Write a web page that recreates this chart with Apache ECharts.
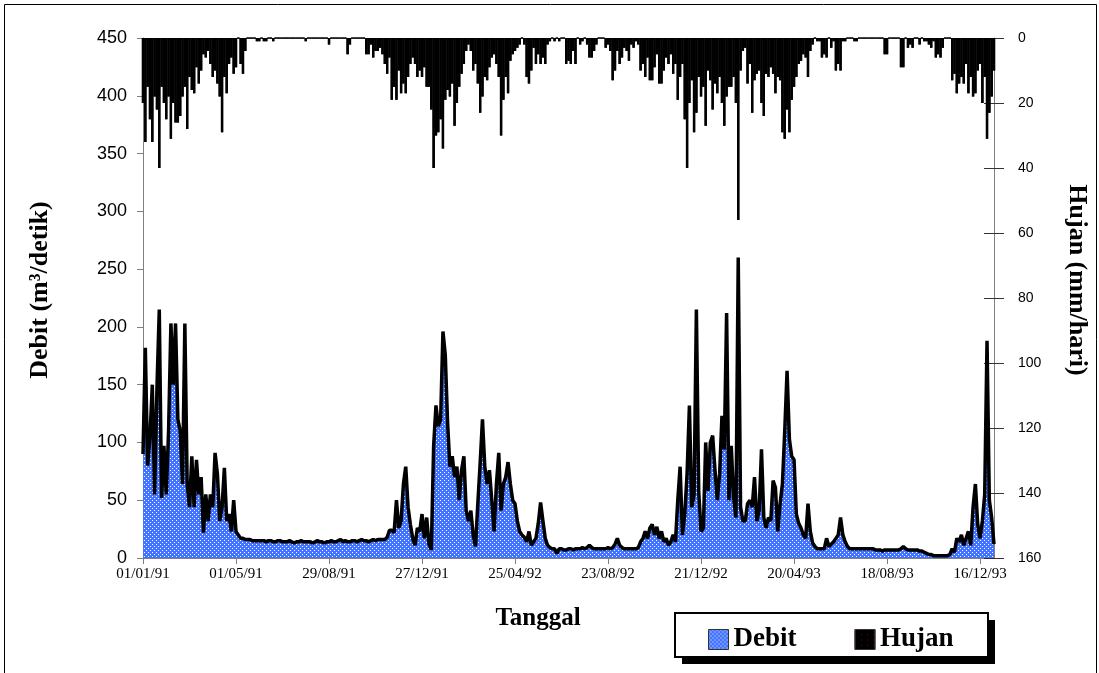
<!DOCTYPE html>
<html>
<head>
<meta charset="utf-8">
<title>Debit dan Hujan</title>
<script src="https://cdn.jsdelivr.net/npm/echarts@6/dist/echarts.min.js"></script>
<style>
    html, body { margin: 0; padding: 0; background: #fff; }
    #chart { width: 1099px; height: 673px; }
</style>
</head>
<body>
<div id="chart"></div>
<script>
// data harian dibaca per 3 hari, mulai 01/01/91
var startDate = Date.UTC(1991, 0, 1);
var stepDays = 3;

// label tanggal pada sumbu x
var tickLabels = ['01/01/91', '01/05/91', '29/08/91', '27/12/91', '25/04/92',
    '23/08/92', '21/12/92', '20/04/93', '18/08/93', '16/12/93'];

// debit (m3/detik)
var debit = [
    90, 182, 80, 105, 150, 55, 147, 215, 52, 97,
    55, 110, 203, 150, 203, 120, 110, 64, 203, 64,
    44, 88, 44, 85, 55, 70, 22, 55, 32, 55,
    44, 91, 73, 32, 44, 78, 32, 38, 23, 50,
    23, 20, 17, 17, 16, 16, 16, 15, 15, 15,
    15, 15,
    15, 14, 15, 15, 14, 14, 15, 15, 14, 14,
    14, 15, 14, 13, 14, 14, 15, 14, 14, 14,
    14, 13, 14, 15, 14, 14, 13, 14, 14, 15,
    14, 14, 15, 16, 14, 15, 14, 14, 15, 15,
    14, 15, 16, 15, 15, 14, 15, 16, 15, 16,
    16,
    16, 16, 18, 24, 24, 22, 50, 26, 32, 64,
    79, 44, 29, 17, 11, 26, 23, 38, 17, 35,
    12, 7, 97, 132, 114, 120, 196, 176, 117, 79,
    88, 70, 79, 50, 76, 88, 41, 32, 41, 20,
    10, 47, 82, 120, 79, 64, 76, 50, 23, 64,
    91, 41, 64, 70,
    83, 64, 50, 47, 32, 23, 20, 18, 14, 23,
    11, 14, 17, 30, 48, 32, 17, 11, 9, 8,
    8, 4, 8, 8, 7, 7, 8, 8, 7, 8,
    8, 8, 9, 8, 9, 11, 9, 8, 8, 8,
    8, 8, 8, 9, 8, 9, 12, 17, 11, 9,
    8, 8, 8,
    8, 8, 8, 9, 14, 17, 23, 17, 26, 29,
    20, 27, 17, 23, 14, 17, 11, 14, 20, 14,
    50, 79, 20, 38, 73, 132, 44, 55, 215, 58,
    23, 26, 100, 58, 100, 106, 76, 50, 73, 123,
    94, 212, 50, 97, 53, 35, 260, 44, 32, 32,
    47, 50,
    44, 70, 32, 41, 94, 35, 26, 35, 32, 67,
    61, 23, 47, 64, 110, 162, 103, 88, 85, 38,
    30, 26, 20, 17, 47, 23, 13, 10, 8, 8,
    8, 8, 17, 10, 12, 14, 17, 20, 35, 20,
    14, 10, 8, 8, 8, 8, 8, 8, 8, 8,
    8, 8, 8,
    7, 7, 7, 6, 7, 7, 7, 7, 7, 7,
    7, 8, 10, 8, 7, 7, 7, 7, 7, 6,
    6, 5, 4, 3, 3, 2, 2, 2, 2, 2,
    2, 2, 3, 8, 5, 17, 14, 20, 11, 17,
    23, 11, 44, 64, 29, 17, 32, 55, 188, 50,
    35, 12
];

// hujan (mm/hari)
var hujan = [
    20, 32, 15, 25, 32, 18, 22, 40, 15, 20,
    25, 18, 31, 20, 26, 26, 24, 18, 15, 28,
    12, 16, 17, 9, 14, 10, 5, 6, 4, 8,
    12, 10, 14, 18, 29, 12, 17, 8, 6, 11,
    9, 0, 8, 11, 4, 0, 0, 0, 0, 1,
    1, 0,
    1, 1, 0, 0, 1, 0, 0, 0, 0, 0,
    0, 0, 0, 0, 0, 0, 0, 0, 1, 0,
    0, 0, 0, 0, 0, 0, 0, 0, 2, 0,
    0, 0, 0, 0, 0, 0, 5, 2, 0, 0,
    0, 0, 0, 0, 5, 5, 2, 6, 4, 4,
    3,
    5, 8, 11, 6, 19, 15, 19, 10, 17, 14,
    17, 12, 8, 6, 8, 12, 10, 12, 9, 15,
    15, 22, 40, 30, 29, 25, 34, 19, 16, 18,
    14, 27, 20, 15, 11, 8, 4, 2, 4, 10,
    8, 14, 23, 18, 12, 13, 9, 6, 5, 8,
    12, 30, 19, 12,
    17, 7, 5, 4, 3, 2, 0, 2, 12, 14,
    10, 3, 8, 5, 8, 6, 8, 2, 1, 0,
    1, 0, 1, 0, 0, 8, 7, 8, 4, 8,
    0, 2, 1, 0, 2, 6, 6, 4, 2, 0,
    0, 0, 3, 2, 4, 13, 10, 4, 8, 6,
    3, 4, 7,
    2, 3, 1, 2, 10, 8, 12, 6, 13, 13,
    9, 5, 14, 14, 10, 6, 8, 5, 11, 8,
    19, 12, 8, 25, 40, 20, 13, 29, 23, 12,
    18, 15, 27, 10, 13, 22, 14, 17, 12, 20,
    27, 18, 15, 15, 12, 20, 56, 10, 4, 3,
    14, 8,
    23, 13, 11, 10, 20, 24, 11, 12, 9, 11,
    17, 12, 13, 29, 31, 22, 29, 19, 15, 12,
    8, 7, 5, 6, 12, 4, 2, 0, 1, 1,
    6, 5, 6, 0, 3, 1, 10, 8, 10, 1,
    1, 0, 0, 0, 1, 1, 0, 0, 0, 0,
    0, 0, 0,
    0, 0, 0, 0, 5, 5, 0, 0, 0, 0,
    0, 9, 9, 0, 3, 2, 3, 0, 0, 2,
    0, 1, 1, 2, 3, 1, 6, 5, 6, 3,
    0, 0, 0, 13, 11, 17, 14, 12, 14, 8,
    17, 12, 18, 17, 10, 8, 20, 12, 31, 23,
    18, 10
];

// kategori tanggal dd/mm/yy
function pad(n) { return (n < 10 ? '0' : '') + n; }
var tanggal = [];
for (var i = 0; i < debit.length; i++) {
    var d = new Date(startDate + i * stepDays * 86400000);
    tanggal.push(pad(d.getUTCDate()) + '/' + pad(d.getUTCMonth() + 1) + '/' + pad(d.getUTCFullYear() % 100));
}
function isTick(idx, val) { return tickLabels.indexOf(val) >= 0; }

// pola titik putih di atas biru untuk area debit
var pat = document.createElement('canvas');
pat.width = 4; pat.height = 4;
var ctx = pat.getContext('2d');
ctx.fillStyle = '#4274ff';
ctx.fillRect(0, 0, 4, 4);
ctx.fillStyle = '#ffffff';
ctx.fillRect(0, 0, 1, 1);
ctx.fillRect(2, 2, 1, 1);
var debitFill = { image: pat, repeat: 'repeat' };

var serif = 'Liberation Serif';
var sans = 'Liberation Sans';
var grey = '#808080';

var myChart = echarts.init(document.getElementById('chart'));

var option = {
    backgroundColor: '#fff',
    animation: false,
    grid: { left: 143, right: 105, top: 38, bottom: 115 },
    legend: {
        left: 703,
        top: 621,
        z: 10,
        selectedMode: false,
        itemWidth: 20,
        itemHeight: 20,
        itemGap: 58,
        textStyle: { fontFamily: serif, fontWeight: 'bold', fontSize: 27, color: '#000' },
        data: [
            { name: 'Debit', icon: 'rect', itemStyle: { color: debitFill, borderColor: '#333', borderWidth: 1 } },
            { name: 'Hujan', icon: 'rect', itemStyle: { color: '#000', borderColor: '#333', borderWidth: 1 } }
        ]
    },
    xAxis: [{
        type: 'category',
        data: tanggal,
        boundaryGap: false,
        axisLine: { lineStyle: { color: grey, width: 1 } },
        axisTick: { interval: isTick, length: 6, lineStyle: { color: grey } },
        axisLabel: { interval: isTick, fontFamily: serif, fontSize: 15, color: '#000', margin: 9 },
        splitLine: { show: false }
    }, {
        type: 'category',
        data: tanggal,
        position: 'top',
        boundaryGap: false,
        axisLine: { lineStyle: { color: grey, width: 1 } },
        axisTick: { show: false },
        axisLabel: { show: false }
    }],
    yAxis: [{
        type: 'value',
        min: 0,
        max: 450,
        interval: 50,
        axisLine: { show: true, lineStyle: { color: grey } },
        axisTick: { show: true, length: 6, lineStyle: { color: grey } },
        axisLabel: { fontFamily: sans, fontSize: 18, color: '#000', margin: 16 },
        splitLine: { show: false }
    }, {
        type: 'value',
        position: 'right',
        inverse: true,
        min: 0,
        max: 160,
        interval: 20,
        axisLine: { show: true, lineStyle: { color: grey } },
        axisTick: { show: true, length: 10, lineStyle: { color: '#333' } },
        axisLabel: { fontFamily: sans, fontSize: 14, color: '#000', margin: 24 },
        splitLine: { show: false }
    }, {
        // tick ke dalam untuk sumbu kanan
        type: 'value',
        position: 'right',
        inverse: true,
        min: 0,
        max: 160,
        interval: 20,
        axisLine: { show: false },
        axisTick: { show: true, inside: true, length: 10, lineStyle: { color: '#333' } },
        axisLabel: { show: false },
        splitLine: { show: false }
    }],
    series: [{
        name: 'Hujan',
        type: 'bar',
        xAxisIndex: 1,
        yAxisIndex: 1,
        data: hujan,
        barCategoryGap: '0%',
        itemStyle: {
            color: '#000',
            borderColor: '#000',
            borderWidth: 1.2,
            decal: {
                symbol: 'rect',
                symbolSize: 1,
                color: 'rgba(190,0,0,0.6)',
                dashArrayX: [[1, 5]],
                dashArrayY: [1, 4]
            }
        },
        z: 2
    }, {
        name: 'Debit',
        type: 'line',
        yAxisIndex: 0,
        data: debit,
        symbol: 'none',
        lineStyle: { color: '#000', width: 3.5 },
        areaStyle: { color: debitFill, opacity: 1 },
        itemStyle: { color: '#000' },
        z: 3
    }],
    graphic: [{
        // bingkai luar
        type: 'rect',
        z: 1,
        shape: { x: 4.5, y: 4.5, width: 1092, height: 700 },
        style: { fill: null, stroke: '#000', lineWidth: 1 }
    }, {
        // bayangan kotak legenda
        type: 'rect',
        z: 1,
        shape: { x: 682, y: 620, width: 313, height: 44 },
        style: { fill: '#000' }
    }, {
        type: 'rect',
        z: 2,
        shape: { x: 675, y: 613, width: 313, height: 44 },
        style: { fill: '#fff', stroke: '#000', lineWidth: 2 }
    }, {
        type: 'text',
        z: 2,
        x: 538,
        y: 619,
        style: {
            text: 'Tanggal',
            font: 'bold 25px "Liberation Serif"',
            fill: '#000',
            textAlign: 'center',
            textVerticalAlign: 'middle'
        }
    }, {
        type: 'text',
        z: 2,
        x: 40,
        y: 290,
        rotation: Math.PI / 2,
        style: {
            text: 'Debit (m³/detik)',
            font: 'bold 26px "Liberation Serif"',
            fill: '#000',
            textAlign: 'center',
            textVerticalAlign: 'middle'
        }
    }, {
        type: 'text',
        z: 2,
        x: 1077,
        y: 280,
        rotation: -Math.PI / 2,
        style: {
            text: 'Hujan (mm/hari)',
            font: 'bold 26px "Liberation Serif"',
            fill: '#000',
            textAlign: 'center',
            textVerticalAlign: 'middle'
        }
    }]
};

myChart.setOption(option);
</script>
</body>
</html>
